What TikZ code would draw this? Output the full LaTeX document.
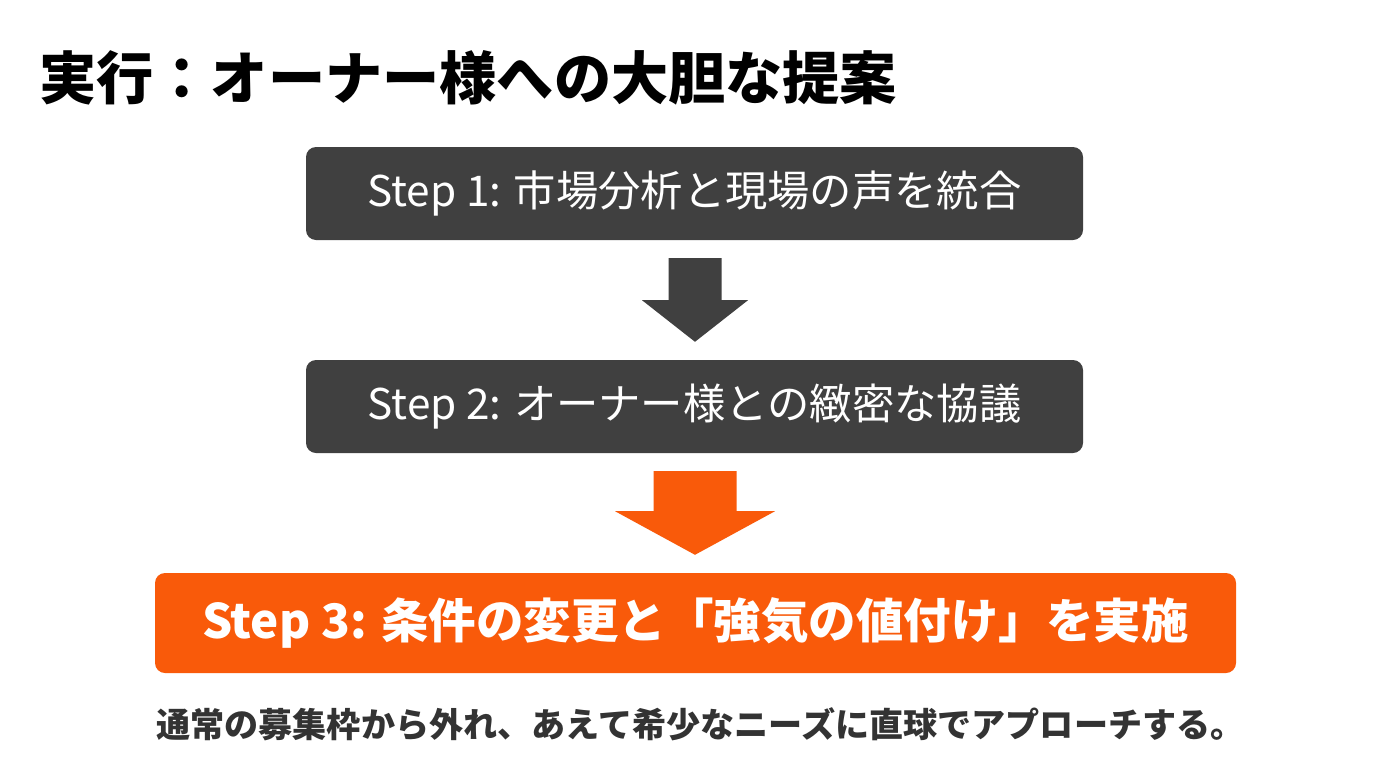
\documentclass[tikz,border=0pt]{standalone}
\usepackage{fontspec}
\setmainfont{Noto Sans CJK JP}
\newfontfamily\jp{Noto Sans CJK JP}
\usetikzlibrary{calc}
\definecolor{boxgray}{HTML}{404040}
\definecolor{accent}{HTML}{F95A0A}
\definecolor{bodytxt}{HTML}{333333}
\begin{document}
\begin{tikzpicture}[x=1pt,y=1pt,
  stepbox/.style={rectangle,rounded corners=10pt,fill=boxgray,text=white,inner sep=0pt,
    minimum width=777pt,minimum height=93pt,font=\jp\fontsize{42.3}{49}\selectfont},
  hotbox/.style={rectangle,rounded corners=10pt,fill=accent,text=white,inner sep=0pt,
    minimum width=1081pt,minimum height=100pt,font=\jp\bfseries\fontsize{47.5}{55}\selectfont},
  blockarrow/.style={fill=boxgray,draw=none}]
\useasboundingbox (0,0) rectangle (1376,-763);
\fill[white] (0,0) rectangle (1376,-763);

\node[anchor=west,inner sep=0pt,font=\jp\bfseries\fontsize{57.2}{65}\selectfont,text=black]
  (title) at (39,-78) {実行：オーナー様への大胆な提案};

\node[stepbox] (s1) at (694.5,-193.5) {Step 1: 市場分析と現場の声を統合};
\node[stepbox] (s2) at (694.5,-406.5) {Step 2: オーナー様との緻密な協議};
\node[hotbox] (s3) at (695.5,-623) {Step 3: 条件の変更と「強気の値付け」を実施};

\node[inner sep=0pt,font=\jp\bfseries\fontsize{34.1}{40}\selectfont,text=bodytxt]
  (note) at (700.5,-724) {通常の募集枠から外れ、あえて希少なニーズに直球でアプローチする。};

% arrow 1 (gray)
\coordinate (a1t) at ($(s1.south)+(0.5,-18)$);
\coordinate (a1b) at ($(s2.north)+(0.5,18)$);
\fill[boxgray] ($(a1t)+(-26.5,0)$) -- ($(a1t)+(26.5,0)$) -- ($(a1t)+(26.5,-42)$)
  -- ($(a1t)+(53,-42)$) -- (a1b) -- ($(a1t)+(-53,-42)$) -- ($(a1t)+(-26.5,-42)$) -- cycle;

% arrow 2 (orange)
\coordinate (a2t) at ($(s2.south)+(0.5,-18)$);
\coordinate (a2b) at ($(s3.north)+(-0.5,18)$);
\fill[accent] ($(a2t)+(-41.5,0)$) -- ($(a2t)+(41.5,0)$) -- ($(a2t)+(41.5,-40)$)
  -- ($(a2t)+(80,-40)$) -- (a2b) -- ($(a2t)+(-80,-40)$) -- ($(a2t)+(-41.5,-40)$) -- cycle;
\end{tikzpicture}
\end{document}
